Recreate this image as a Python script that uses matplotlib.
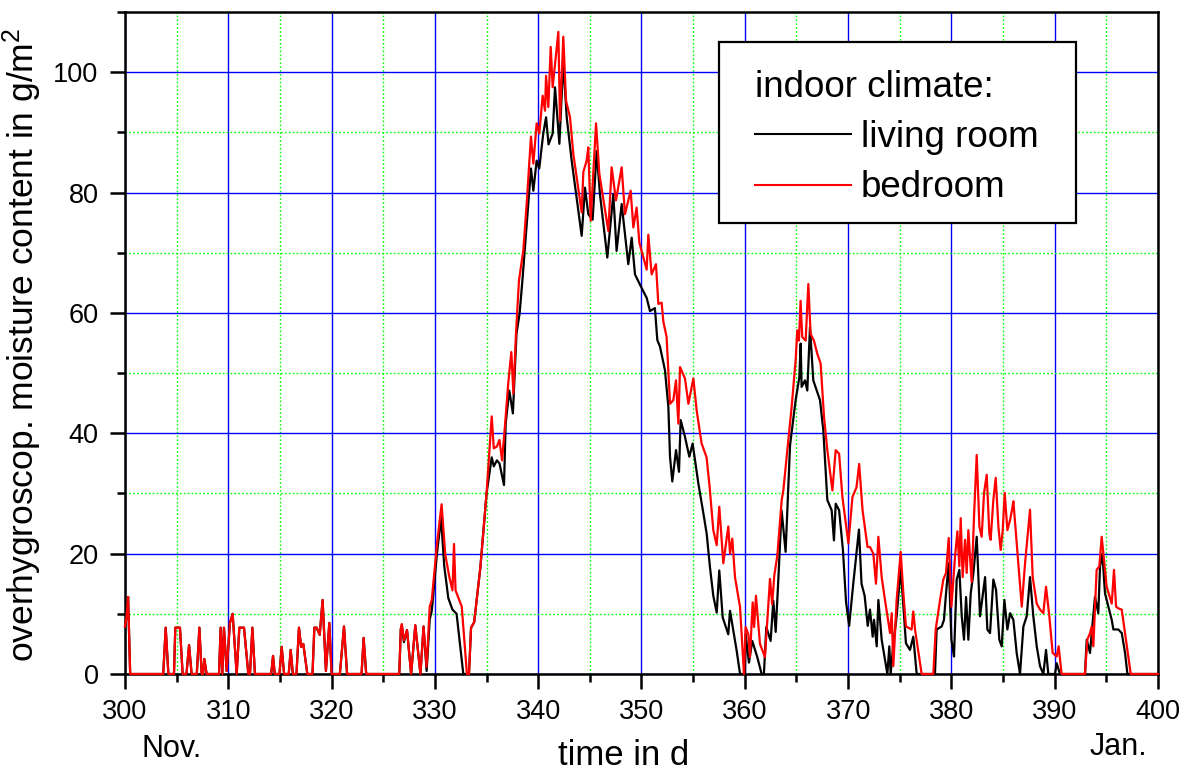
import numpy as np
import matplotlib
matplotlib.use("Agg")
import matplotlib.pyplot as plt
from matplotlib.ticker import MultipleLocator
from matplotlib.patches import Rectangle
from matplotlib.lines import Line2D
import matplotlib.transforms as mtransforms

plt.rcParams['font.family'] = ['Liberation Sans', 'DejaVu Sans']
plt.rcParams['mathtext.fontset'] = 'custom'
plt.rcParams['mathtext.rm'] = 'Liberation Sans'
plt.rcParams['mathtext.it'] = 'Liberation Sans:italic'

# =========================
# data
# =========================
# Nov. part, both rooms nearly identical
t_early = [300.0, 300.15, 300.3, 300.5, 303.7, 303.94, 304.2, 304.74, 304.87, 305.32,
           305.58, 305.95, 306.2, 306.45, 306.95, 307.2, 307.42, 307.55, 307.68, 307.9,
           309.1, 309.26, 309.42, 309.58, 309.84, 310.16, 310.42, 310.81, 311.07, 311.52,
           311.94, 312.1, 312.33, 312.58, 314.15, 314.33, 314.5, 314.95, 315.17, 315.4,
           315.85, 316.04, 316.25, 316.6, 316.84, 317.05, 317.26, 317.65, 318.15, 318.33,
           318.55, 318.85, 319.13, 319.45, 319.78, 320.0, 320.8, 321.2, 321.5, 322.9,
           323.1, 323.35, 326.55]
early = [7.9, 9.5, 12.8, 0, 0, 7.7, 0, 0, 7.7, 7.7,
         0, 0, 4.8, 0, 0, 7.7, 0, 0, 2.5, 0,
         0, 7.7, 0, 7.7, 0.5, 8.5, 10, 0, 7.7, 7.7,
         0, 0, 7.7, 0, 0, 3, 0, 0, 4.5, 0,
         0, 4, 0, 0, 7.7, 4.5, 5, 0, 0, 7.7,
         7.7, 6.5, 12.3, 0.5, 8.5, 0, 0, 7.9, 0, 0,
         6, 0, 0]

# living room
t_living = [326.7, 326.8, 327.0, 327.3, 327.7, 328.1, 328.6, 328.9, 329.2, 329.5,
            329.7, 330.2, 330.6, 330.9, 331.3, 331.7, 332.1, 332.75, 333.3, 333.5,
            333.8, 334.4, 335.0, 335.5, 335.7, 336.0, 336.25, 336.69, 336.85, 337.2,
            337.55, 337.9, 338.2, 338.5, 338.9, 339.3, 339.53, 339.85, 340.1, 340.49,
            340.76, 341.0, 341.4, 341.63, 342.05, 342.43, 342.76, 343.24, 344.21, 344.53,
            344.85, 345.27, 345.66, 345.98, 346.69, 347.27, 347.59, 348.08, 348.72, 349.05,
            349.37, 349.85, 350.5, 350.82, 351.3, 351.53, 351.79, 352.27, 352.6, 352.76,
            352.98, 353.34, 353.63, 353.79, 354.21, 354.63, 354.95, 355.5, 355.99, 356.31,
            356.63, 356.95, 357.28, 357.53, 357.86, 358.4, 358.57, 359.21, 359.54, 360.02,
            360.08, 360.4, 360.72, 361.21, 361.63, 361.85, 362.08, 362.5, 362.76, 362.99,
            363.24, 363.56, 363.95, 364.38, 364.92, 365.28, 365.41, 365.5, 365.83, 366.05,
            366.31, 366.63, 366.96, 367.28, 367.6, 367.99, 368.41, 368.63, 368.8, 369.13,
            369.5, 369.8, 370.1, 370.5, 370.8, 371.05, 371.3, 371.6, 371.9, 372.12,
            372.38, 372.51, 372.77, 372.93, 373.25, 373.57, 373.8, 373.99, 374.12, 374.38,
            374.7, 375.09, 375.35, 375.6, 375.99, 376.31, 376.64, 378.41, 378.57, 379.06,
            379.28, 379.48, 379.74, 380.0, 380.25, 380.51, 380.77, 381.0, 381.22, 381.42,
            381.64, 381.87, 382.13, 382.45, 382.77, 383.26, 383.48, 383.74, 384.06, 384.32,
            384.64, 384.87, 385.13, 385.42, 385.68, 386.0, 386.32, 386.64, 386.97, 387.29,
            387.61, 387.93, 388.26, 388.58, 388.9, 389.16, 389.38, 390.03, 390.19, 390.51,
            392.93, 393.1, 393.42, 393.58, 393.9, 394.22, 394.39, 394.61, 394.87, 395.19,
            395.52, 395.68, 396.16, 396.49, 396.81, 397.04, 400.0]
living = [7.5, 8.0, 5.3, 7.3, 0, 8.1, 0, 7.9, 0.5, 9.1,
          10.5, 20.0, 26.0, 18.0, 12.6, 10.7, 10.0, 0, 0, 7.7,
          8.6, 17.7, 30.0, 36.0, 34.5, 35.5, 35.0, 31.4, 41.6, 47.1,
          43.3, 56.6, 59.9, 66.0, 75.0, 84.0, 80.3, 85.3, 84.0, 89.8,
          92.5, 88.0, 89.8, 97.5, 88.1, 101.7, 92.5, 85.3, 72.8, 80.8,
          76.4, 75.5, 86.9, 79.7, 69.2, 79.7, 70.3, 78.1, 68.1, 72.5,
          66.4, 64.7, 62.5, 60.3, 60.8, 55.5, 54.4, 50.5, 44.4, 36.1,
          32.0, 37.2, 33.6, 42.2, 39.4, 36.1, 38.3, 31.7, 26.7, 23.3,
          17.7, 13.0, 10.2, 17.2, 9.4, 6.6, 10.5, 3.9, 0, 0,
          6.6, 1.9, 5.5, 2.8, 0, 0, 7.8, 5.5, 12.2, 7.0,
          15.5, 27.2, 20.3, 38.0, 45.5, 49.3, 54.9, 47.7, 48.8, 47.1,
          57.6, 48.8, 47.1, 45.5, 40.5, 28.9, 27.2, 22.2, 28.3, 27.2,
          20.6, 12.0, 8.0, 15.0, 20.0, 24.0, 15.0, 13.0, 8.0, 10.7,
          6.2, 9.0, 4.6, 12.3, 5.7, 2.4, 0, 4.6, 0, 5.1,
          9.6, 17.6, 11.2, 5.1, 4.0, 6.2, 0, 0, 7.4, 7.9,
          9.0, 13.4, 18.4, 5.7, 2.9, 15.7, 17.3, 9.6, 5.7, 12.8,
          5.7, 13.4, 16.8, 22.8, 9.6, 16.1, 7.4, 6.8, 15.7, 14.0,
          5.7, 4.6, 12.3, 7.4, 10.1, 9.0, 3.5, 0, 7.9, 9.6,
          16.1, 9.6, 4.6, 1.3, 0, 4.0, 0, 0, 1.8, 0,
          0, 5.7, 3.5, 6.8, 12.8, 10.1, 17.9, 20.0, 13.4, 11.2,
          9.0, 7.4, 7.4, 6.8, 3.5, 0, 0]

# bedroom
t_bed = [326.7, 326.8, 327.0, 327.3, 327.7, 328.1, 328.6, 328.9, 329.2, 329.5,
         329.7, 330.2, 330.65, 331.0, 331.4, 331.7, 331.85, 332.0, 332.6, 333.1,
         333.3, 333.5, 333.8, 334.4, 335.0, 335.5, 335.7, 336.0, 336.25, 336.5,
         336.8, 337.1, 337.4, 337.6, 337.85, 338.14, 338.56, 338.88, 339.3, 339.53,
         339.85, 340.11, 340.43, 340.66, 340.76, 340.98, 341.21, 341.4, 341.63, 341.95,
         342.11, 342.43, 342.69, 343.08, 343.4, 344.21, 344.37, 344.69, 344.85, 345.08,
         345.6, 345.92, 346.79, 347.11, 347.53, 348.08, 348.4, 348.95, 349.21, 349.53,
         349.79, 350.5, 350.66, 350.98, 351.4, 351.63, 351.95, 352.11, 352.43, 352.76,
         353.08, 353.34, 353.57, 353.73, 354.21, 354.54, 355.02, 355.34, 355.82, 356.3,
         356.6, 356.95, 357.28, 357.53, 357.92, 358.4, 358.57, 358.79, 359.05, 359.54,
         359.92, 360.08, 360.34, 360.5, 360.76, 360.9, 361.08, 361.47, 361.95, 362.44,
         362.65, 362.85, 363.15, 363.57, 363.73, 364.38, 364.53, 364.92, 365.08, 365.24,
         365.4, 365.56, 365.89, 366.15, 366.37, 366.69, 367.02, 367.34, 367.67, 367.99,
         368.48, 368.8, 369.13, 369.45, 370.03, 370.42, 370.81, 371.07, 371.4, 371.88,
         372.12, 372.44, 372.7, 372.93, 373.25, 373.57, 374.06, 374.22, 374.38, 374.7,
         375.09, 375.35, 375.6, 376.15, 376.31, 376.48, 377.12, 378.25, 378.48, 378.9,
         379.22, 379.48, 379.74, 380.0, 380.35, 380.58, 380.77, 380.9, 381.09, 381.32,
         381.48, 381.64, 381.96, 382.19, 382.45, 382.71, 382.93, 383.16, 383.42, 383.67,
         383.8, 384.06, 384.29, 384.55, 384.77, 384.97, 385.16, 385.42, 385.68, 385.87,
         386.0, 386.32, 386.81, 387.13, 387.61, 387.87, 388.26, 388.58, 388.9, 389.16,
         389.48, 389.8, 390.19, 390.38, 390.67, 392.93, 393.16, 393.42, 393.58, 393.74,
         394.06, 394.32, 394.55, 394.71, 395.03, 395.52, 395.74, 395.94, 396.16, 396.49,
         396.81, 397.36, 400.0]
bed = [7.5, 8.3, 5.6, 7.3, 0, 8.1, 0, 7.9, 1.2, 11.2,
       12.3, 21.6, 28.2, 19.9, 16.1, 13.9, 21.6, 13.9, 11.2, 0,
       0, 7.7, 8.6, 17.7, 30.0, 42.8, 37.5, 37.8, 38.9, 35.5,
       41.6, 48.3, 53.5, 46.6, 56.6, 65.4, 70.4, 78.0, 89.3, 84.8,
       91.5, 89.8, 96.1, 93.6, 99.4, 94.2, 104.2, 97.5, 101.4, 106.7,
       92.0, 105.9, 95.3, 92.5, 86.4, 76.7, 83.4, 85.3, 87.5, 75.3,
       91.5, 83.1, 73.6, 84.2, 78.7, 84.2, 76.4, 80.3, 74.2, 77.5,
       71.7, 67.2, 73.0, 66.4, 68.1, 61.5, 61.7, 58.6, 56.0, 44.9,
       45.5, 48.8, 41.6, 51.0, 49.1, 44.9, 49.1, 43.8, 38.3, 36.0,
       31.0, 23.9, 21.4, 27.8, 18.4, 24.5, 20.0, 22.5, 16.1, 11.1,
       0, 7.8, 6.6, 2.8, 11.9, 7.8, 13.0, 5.0, 2.8, 15.8,
       11.6, 16.3, 19.7, 28.9, 30.5, 41.6, 44.3, 52.1, 57.1, 55.4,
       62.0, 56.0, 55.4, 64.8, 56.5, 55.4, 53.2, 51.6, 42.7, 37.2,
       30.5, 37.2, 36.6, 29.4, 21.7, 29.4, 31.0, 34.9, 27.2, 21.1,
       21.1, 20.0, 15.0, 22.8, 16.1, 12.3, 6.8, 10.1, 1.3, 12.3,
       20.3, 13.4, 7.9, 7.4, 10.4, 7.4, 0, 0, 7.4, 12.3,
       15.7, 16.8, 22.6, 11.2, 19.5, 23.7, 17.9, 25.9, 16.1, 22.3,
       16.8, 23.9, 15.3, 26.2, 36.4, 24.5, 22.8, 30.1, 33.1, 23.4,
       22.3, 28.9, 32.6, 24.5, 20.6, 23.9, 30.1, 23.9, 25.6, 27.3,
       28.7, 21.7, 11.2, 18.4, 27.3, 16.1, 11.7, 10.7, 10.1, 14.5,
       9.6, 3.5, 2.9, 4.6, 0, 0, 5.7, 6.8, 7.9, 4.6,
       17.3, 17.9, 22.8, 20.0, 14.5, 11.7, 17.3, 11.2, 10.9, 10.7,
       6.8, 0, 0]

x_living = np.array(t_early + t_living)
y_living = np.array(early + living)
x_bed = np.array(t_early + t_bed)
y_bed = np.array(early + bed)


# =========================
# plot
# =========================
fig = plt.figure(figsize=(11.9, 7.72), dpi=100)
ax = fig.add_axes([0.10504, 0.12694, 0.86807, 0.85751])

ax.plot(x_living, y_living, color='black', lw=1.6, zorder=3, clip_on=False)
ax.plot(x_bed, y_bed, color='red', lw=1.6, zorder=4, clip_on=False)

ax.set_xlim(300, 400)
ax.set_ylim(0, 110)

ax.xaxis.set_major_locator(MultipleLocator(10))
ax.xaxis.set_minor_locator(MultipleLocator(5))
ax.yaxis.set_major_locator(MultipleLocator(20))
ax.yaxis.set_minor_locator(MultipleLocator(10))

ax.grid(which='major', color='#0000ff', lw=1.0, ls='-', zorder=1)
ax.grid(which='minor', color='#00ff00', lw=1.0, ls=(0, (1.2, 1.6)), zorder=1)
ax.set_axisbelow(True)

for s in ax.spines.values():
    s.set_linewidth(1.8)

ax.tick_params(which='major', direction='out', length=11, width=1.8,
               labelsize=19.5, pad=7)
ax.tick_params(which='minor', direction='out', length=6, width=1.8)
ax.tick_params(axis='y', which='major', pad=8)

ax.set_xlabel("time in d", fontsize=25)
ax.xaxis.set_label_coords(0.4826, -0.1375)
ax.xaxis.label.set_va('baseline')
ax.set_ylabel("overhygroscop. moisture content in g/m$^2$", fontsize=25.5)
ax.yaxis.set_label_coords(-0.078, 0.497)

trans = mtransforms.blended_transform_factory(ax.transData, ax.transAxes)
ax.text(304.5, -0.1254, "Nov.", transform=trans, fontsize=22,
        ha='center', va='baseline')
ax.text(396.2, -0.1225, "Jan.", transform=trans, fontsize=22,
        ha='center', va='baseline')

# legend box + entries
box = Rectangle((0.575, 0.6813), 0.9206 - 0.575, 0.9547 - 0.6813,
                transform=ax.transAxes, facecolor='white', edgecolor='black',
                lw=1.6, zorder=5)
ax.add_patch(box)

handles = [Line2D([], [], color='black', lw=1.5),
           Line2D([], [], color='red', lw=1.5)]
leg = ax.legend(handles, ['living room', 'bedroom'],
                title='indoor climate:', title_fontsize=26.5, fontsize=26.5,
                loc='upper left', bbox_to_anchor=(0.6099, 0.912),
                frameon=False, borderpad=0, borderaxespad=0,
                handlelength=2.6, handletextpad=0.27, labelspacing=0.41,
                alignment='left')
leg.set_zorder(6)

fig.savefig("out.png", dpi=100)
